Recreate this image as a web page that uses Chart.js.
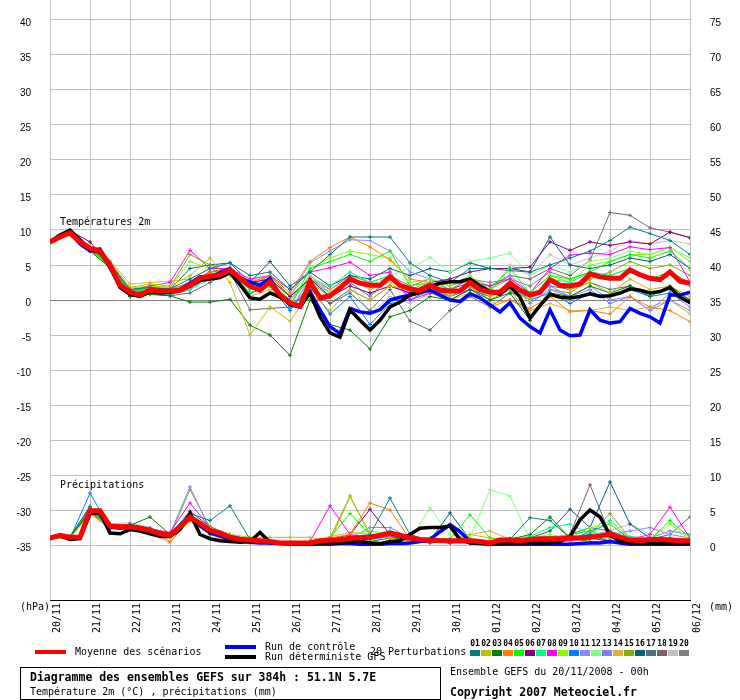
<!DOCTYPE html>
<html>
<head>
<meta charset="utf-8">
<script src="https://cdn.jsdelivr.net/npm/chart.js@4.4.1/dist/chart.umd.min.js"></script>
<style>
  body { margin: 0; background: #fff; }
  #wrap { position: relative; width: 740px; height: 700px; background: #fff; }
  #chart { position: absolute; left: 0; top: 0; }
  .t {
    position: absolute;
    font-family: "DejaVu Sans Mono", monospace;
    font-size: 10px;
    line-height: 12px;
    white-space: pre;
    color: #000;
  }
  .b { font-weight: bold; font-size: 11.5px; }
  .bar { position: absolute; width: 31px; height: 4px; }
  .sw { position: absolute; top: 650px; width: 10px; height: 6px; }
  .num {
    position: absolute; top: 640px; width: 11px; text-align: center;
    font-family: "DejaVu Sans Mono", monospace; font-size: 8px; font-weight: bold; line-height: 8px;
  }
  #box {
    position: absolute; left: 20px; top: 667px; width: 421px; height: 33px;
    border: 1px solid #000; box-sizing: border-box;
  }
</style>
</head>
<body>
<div id="wrap">
  <canvas id="chart" width="740" height="700"></canvas>

  <div class="t" style="left:60px;top:216px">Températures 2m</div>
  <div class="t" style="left:60px;top:479px">Précipitations</div>
  <div class="t" style="left:20px;top:601px">(hPa)</div>
  <div class="t" style="left:709px;top:601px">(mm)</div>

  <div class="bar" style="left:35px;top:650px;background:#ff0000"></div>
  <div class="t" style="left:75px;top:646px">Moyenne des scénarios</div>
  <div class="bar" style="left:225px;top:645px;background:#0000ff"></div>
  <div class="t" style="left:265px;top:641px">Run de contrôle</div>
  <div class="bar" style="left:225px;top:655px;background:#000000"></div>
  <div class="t" style="left:265px;top:651px">Run déterministe GFS</div>
  <div class="t" style="left:370px;top:646px">20 Perturbations</div>
  <div id="swatches"></div>

  <div id="box"></div>
  <div class="t b" style="left:30px;top:671px">Diagramme des ensembles GEFS sur 384h : 51.1N 5.7E</div>
  <div class="t" style="left:30px;top:686px">Température 2m (°C) , précipitations (mm)</div>
  <div class="t" style="left:450px;top:666px">Ensemble GEFS du 20/11/2008 - 00h</div>
  <div class="t b" style="left:450px;top:686px">Copyright 2007 Meteociel.fr</div>
</div>

<script>
// days on the x axis (one grid line every 24h)
const dayLabels = ["20/11", "21/11", "22/11", "23/11", "24/11", "25/11", "26/11", "27/11", "28/11",
  "29/11", "30/11", "01/12", "02/12", "03/12", "04/12", "05/12", "06/12"];

// left axis ticks (°C) and right axis ticks (mm)
const tempTicks = [-35, -30, -25, -20, -15, -10, -5, 0, 5, 10, 15, 20, 25, 30, 35, 40];
const precipTicks = [0, 5, 10, 15, 20, 25, 30, 35, 40, 45, 50, 55, 60, 65, 70, 75];

const memberColors = ["#008080", "#c0c000", "#008000", "#ff8000", "#00ff00", "#800080", "#00ff80",
  "#ff00ff", "#80ff00", "#0080ff", "#8888ff", "#80ff80", "#8080ff", "#e0b040", "#80b000",
  "#006080", "#507080", "#806070", "#c0c0c0", "#808080"];

// 6-hourly temperature (°C), 0h .. 384h
const tempMean = [
  8.3, 9.0, 9.6, 8.3, 7.4, 7.0, 5.0, 2.1, 1.1, 0.7,
  1.4, 1.3, 1.3, 1.4, 2.1, 3.1, 3.4, 3.6, 4.3, 3.1,
  2.0, 1.4, 2.6, 0.7, -0.4, -0.9, 2.6, 0.3, 0.6, 1.7,
  3.0, 2.4, 2.1, 2.1, 3.3, 2.1, 1.6, 1.3, 2.1, 1.4,
  1.3, 1.3, 2.5, 1.5, 1.1, 1.1, 2.4, 1.4, 0.7, 1.1,
  2.9, 2.1, 2.0, 2.3, 3.7, 3.3, 3.1, 3.1, 4.3, 3.6,
  3.1, 2.9, 4.0, 2.7, 2.4];
const tempControl = [
  8.3, 9.2, 9.7, 8.0, 7.0, 7.3, 4.6, 2.0, 1.0, 0.6,
  1.2, 1.4, 1.2, 1.5, 2.4, 3.3, 3.2, 3.9, 4.5, 3.0,
  2.6, 2.1, 3.1, 0.7, -0.7, -1.0, 1.2, -1.4, -3.8, -4.8,
  -1.2, -1.7, -1.9, -1.4, 0.0, 0.4, 0.7, 1.1, 1.4, 0.7,
  0.0, -0.2, 0.9, 0.3, -0.7, -1.7, -0.4, -2.6, -3.8, -4.7,
  -1.4, -4.3, -5.1, -5.0, -1.4, -2.9, -3.3, -3.1, -1.2, -1.9,
  -2.4, -3.3, 0.7, 0.7, 1.1];
const tempDeterm = [
  8.3, 9.3, 10.0, 8.6, 7.2, 6.8, 4.8, 1.8, 0.8, 0.5,
  1.2, 1.0, 1.1, 1.4, 2.0, 2.8, 3.0, 3.2, 3.9, 2.2,
  0.3, 0.1, 1.0, 0.4, -0.4, -1.0, 1.0, -2.4, -4.7, -5.3,
  -1.4, -2.9, -4.3, -2.9, -1.0, -0.3, 0.7, 1.1, 1.9, 2.4,
  2.6, 2.6, 3.0, 2.0, 1.2, 0.8, 2.0, 0.4, -2.6, -0.8,
  0.8, 0.4, 0.3, 0.5, 0.9, 0.5, 0.6, 1.0, 1.6, 1.4,
  1.0, 1.2, 1.8, 0.4, -0.4];

// 12-hourly temperature of the 20 perturbations (01 .. 20)
const tempPerturbations = [
  [8.4, 9.7, 7.6, 5.2, 1.5, 1.8, 1.6, 3.0, 4.5, 5.3, 3.5, 4.0, 1.5, 4.0, 6.5, 9.0, 9.0, 9.0, 5.3, 3.5, 2.5, 4.5, 4.5, 4.2, 4.0, 5.0, 6.0, 7.0, 8.5, 10.4, 9.5, 8.5, 6.5],
  [8.2, 9.5, 7.2, 5.5, 1.8, 2.3, 2.0, 3.5, 6.0, 2.5, -5.0, -1.0, -3.0, 1.0, -1.5, 1.5, 0.0, 2.0, 1.5, 2.5, 0.5, 2.0, 0.5, 1.5, 0.0, 3.0, 1.5, 2.5, 1.0, 3.0, 1.5, 2.0, 0.5],
  [8.3, 9.4, 7.0, 4.6, 0.5, 0.8, 0.6, -0.3, -0.3, 0.1, -3.6, -5.0, -7.9, 0.0, -3.5, -4.3, -7.0, -2.4, -1.5, 0.5, 0.0, 1.5, 0.0, 1.0, -2.9, 1.0, 0.5, 2.0, 1.0, 2.0, 0.5, 2.0, 0.0],
  [8.5, 9.8, 7.5, 5.3, 1.4, 1.8, 1.5, 2.5, 4.0, 4.5, 2.5, 3.5, 1.0, 5.5, 7.5, 9.0, 7.6, 5.7, 3.0, 2.5, 1.0, 2.0, -1.0, 0.0, -1.2, 0.5, -1.7, -1.5, -2.0, 0.5, -1.0, -1.5, -3.1],
  [8.2, 9.5, 7.3, 4.7, 1.2, 1.5, 1.2, 2.0, 3.8, 4.0, 1.0, 2.0, -1.0, 4.5, 5.5, 6.5, 5.5, 7.0, 2.0, 2.5, 1.5, 3.0, 1.5, 4.5, 1.0, 3.5, 3.0, 4.0, 5.5, 6.5, 6.0, 7.0, 4.5],
  [8.4, 9.9, 8.3, 5.0, 1.0, 1.3, 1.0, 2.5, 4.0, 4.5, 2.5, 3.0, 0.5, 3.0, 0.5, 2.0, 1.0, 2.0, 1.0, 2.5, 3.0, 4.0, 4.5, 4.5, 4.7, 8.3, 7.1, 8.3, 7.8, 8.3, 8.0, 9.7, 8.9],
  [8.3, 9.6, 7.4, 5.1, 0.8, 1.0, 0.8, 1.5, 3.0, 4.0, 1.5, 2.5, 0.0, 3.0, 2.0, 4.0, 2.5, 3.5, 1.0, 1.5, 0.5, 2.0, 1.0, 2.0, 0.0, 3.0, 2.5, 4.0, 3.5, 4.5, 3.0, 4.0, 2.0],
  [8.3, 9.5, 7.0, 5.4, 1.3, 2.0, 2.5, 7.1, 4.5, 4.5, 3.0, 3.5, 1.5, 4.0, 4.6, 5.4, 3.5, 4.0, 0.0, 1.0, 1.5, 2.5, 2.0, 3.0, 1.0, 4.5, 6.4, 6.7, 6.5, 7.6, 7.2, 7.5, 2.6],
  [8.2, 9.4, 7.1, 4.8, 1.7, 2.0, 1.8, 5.5, 4.5, 3.5, 1.5, 3.0, 0.5, 4.5, 6.0, 7.0, 6.5, 6.0, 2.5, 3.0, 2.0, 3.5, 1.5, 3.0, 1.0, 3.5, 2.5, 5.0, 5.5, 6.5, 6.5, 7.5, 5.5],
  [8.3, 9.6, 7.5, 5.0, 0.6, 1.0, 0.7, 1.5, 3.5, 4.0, 1.0, 2.0, -1.5, 2.0, -2.0, 0.5, -3.5, -0.5, 0.0, 1.5, 0.5, 1.5, 0.5, 2.0, 0.0, 1.0, -0.5, 1.0, 0.5, 1.5, 0.5, 1.0, -0.5],
  [8.4, 9.7, 7.6, 5.3, 1.2, 1.6, 1.4, 2.5, 4.0, 4.5, 2.0, 3.0, 0.5, 5.3, 7.0, 8.6, 8.5, 7.0, 4.0, 3.0, 1.5, 3.0, 1.5, 3.5, 1.0, 2.0, 0.5, 2.0, 0.0, 0.5, -1.5, 0.0, -1.5],
  [8.3, 9.5, 7.2, 4.9, 1.0, 1.4, 1.1, 2.0, 3.5, 4.0, 1.5, 2.5, 0.0, 2.5, 1.0, 3.0, 2.0, 3.5, 4.5, 6.1, 4.0, 5.5, 6.0, 6.7, 3.5, 5.0, 4.0, 5.5, 6.0, 7.0, 6.5, 7.5, 6.0],
  [8.3, 9.7, 7.5, 5.0, 1.0, 1.3, 1.0, 2.0, 3.5, 4.0, 1.5, 2.0, -1.5, 3.0, 1.0, 2.5, 0.5, 3.5, 0.5, 1.5, 0.0, 1.5, 0.5, 2.5, -0.5, 1.5, 0.5, 1.5, -0.5, 0.5, -1.5, 1.0, -1.0],
  [8.2, 9.4, 7.3, 5.6, 2.3, 2.5, 2.7, 3.0, 4.5, 3.5, 0.5, 1.5, -0.5, 3.5, 1.5, 3.0, 1.5, 2.5, 0.5, 1.0, 0.0, 1.0, -0.5, 0.0, -1.5, -0.5, -1.5, -1.5, -1.0, -1.5, -1.0, 0.0, -2.0],
  [8.3, 9.5, 7.2, 5.0, 1.5, 2.0, 1.8, 6.5, 5.0, 4.0, 2.0, 3.5, 0.5, 2.5, 0.5, 2.5, 0.5, 3.0, 1.5, 2.0, 0.5, 2.0, 0.0, 1.5, -2.5, 1.5, 1.0, 3.0, 4.0, 5.5, 4.5, 5.0, 3.5],
  [8.4, 9.6, 7.4, 5.2, 1.4, 1.8, 1.5, 4.5, 5.0, 5.3, 2.5, 5.5, 2.0, 4.0, 2.0, 3.5, 3.0, 4.5, 3.5, 4.5, 4.0, 5.3, 4.5, 4.5, 4.0, 9.0, 5.0, 4.5, 5.0, 6.0, 5.5, 6.5, 4.5],
  [8.2, 9.4, 7.3, 4.8, 0.9, 1.2, 1.0, 1.8, 3.5, 3.8, 1.0, 2.0, -1.0, 2.0, -0.5, 1.0, -1.5, 1.5, -3.0, -4.3, -1.5, 0.5, -1.0, 1.0, 0.5, 2.0, 1.5, 2.5, 1.5, 2.0, 1.0, 1.5, 0.0],
  [8.3, 9.5, 7.2, 4.9, 0.6, 0.9, 0.6, 1.0, 2.5, 4.0, -1.4, -1.2, -1.0, 1.5, -0.5, 1.5, 0.0, 2.0, 1.0, 2.0, 1.5, 3.0, 2.0, 3.5, 3.0, 4.5, 3.5, 5.7, 12.5, 12.1, 10.3, 9.7, 8.9],
  [8.3, 9.6, 7.3, 5.1, 1.1, 1.5, 1.3, 2.5, 4.0, 4.5, 2.0, 3.0, 0.0, 3.5, 1.0, 2.5, -2.0, 0.5, -0.5, 1.0, 0.5, 2.5, 1.0, 5.0, 3.5, 6.5, 5.0, 6.0, 7.0, 8.5, 8.0, 8.5, 8.0],
  [8.3, 9.5, 7.4, 5.0, 1.3, 1.7, 1.5, 2.5, 4.0, 4.5, 2.5, 3.5, 0.5, 3.0, 1.5, 3.5, 2.5, 3.5, 2.0, 3.0, 2.0, 3.0, 2.5, 3.0, 2.0, 4.0, 3.0, 4.0, 3.5, 4.5, 3.0, 4.0, 2.5]
];

// 6-hourly precipitation (mm)
const precipMean = [
  1.0, 1.4, 1.1, 1.1, 4.9, 4.9, 2.7, 2.6, 2.6, 2.4,
  2.1, 1.6, 1.4, 2.6, 4.0, 3.1, 2.1, 1.7, 1.1, 0.8,
  0.7, 0.6, 0.5, 0.3, 0.3, 0.3, 0.3, 0.6, 0.7, 0.7,
  1.0, 1.0, 1.1, 1.4, 1.7, 1.4, 1.0, 0.8, 0.7, 0.6,
  0.6, 0.6, 0.6, 0.5, 0.3, 0.7, 0.7, 0.6, 0.8, 0.9,
  0.9, 0.9, 1.0, 1.0, 1.1, 1.3, 1.6, 1.1, 0.7, 0.6,
  0.8, 0.8, 0.7, 0.6, 0.6];
const precipControl = [
  1.0, 1.4, 1.1, 1.1, 4.5, 4.7, 2.6, 2.4, 2.5, 2.3,
  2.0, 1.5, 1.3, 2.4, 4.2, 2.8, 1.8, 1.3, 0.8, 0.6,
  0.4, 0.3, 0.3, 0.2, 0.1, 0.1, 0.1, 0.1, 0.1, 0.2,
  0.2, 0.1, 0.1, 0.1, 0.2, 0.2, 0.3, 0.5, 0.8, 1.9,
  2.9, 1.9, 0.5, 0.2, 0.1, 0.1, 0.1, 0.1, 0.1, 0.1,
  0.1, 0.1, 0.1, 0.2, 0.3, 0.3, 0.5, 0.3, 0.1, 0.1,
  0.1, 0.1, 0.1, 0.1, 0.1];
const precipDeterm = [
  1.0, 1.3, 0.8, 0.9, 4.5, 4.6, 1.7, 1.6, 2.2, 2.0,
  1.6, 1.2, 1.2, 2.2, 4.5, 1.5, 0.9, 0.6, 0.5, 0.4,
  0.5, 1.8, 0.4, 0.3, 0.2, 0.2, 0.2, 0.2, 0.3, 0.3,
  0.4, 0.5, 0.3, 0.2, 0.5, 0.6, 1.5, 2.4, 2.5, 2.5,
  2.7, 0.8, 0.3, 0.2, 0.2, 0.2, 0.3, 0.3, 0.3, 0.3,
  0.3, 0.5, 1.2, 3.6, 5.0, 4.0, 1.4, 0.6, 0.3, 0.3,
  0.2, 0.2, 0.2, 0.2, 0.2];

// 12-hourly precipitation of the 20 perturbations (01 .. 20)
const precipPerturbations = [
  [1.0, 1.2, 5.5, 2.5, 3.0, 2.4, 1.6, 4.5, 3.5, 5.6, 0.8, 0.3, 0.2, 0.3, 0.5, 0.8, 1.5, 6.7, 1.5, 0.5, 0.8, 0.5, 0.2, 0.8, 3.9, 3.5, 1.0, 1.5, 0.5, 0.3, 0.5, 0.8, 0.5],
  [1.0, 1.0, 4.5, 2.8, 2.2, 2.0, 1.2, 3.5, 2.5, 1.5, 1.1, 1.1, 1.1, 1.1, 0.5, 6.9, 1.5, 1.0, 0.5, 0.8, 0.5, 1.5, 1.0, 0.5, 0.5, 1.0, 1.5, 0.5, 0.3, 0.5, 1.0, 0.5, 0.2],
  [1.0, 1.1, 4.8, 2.5, 2.8, 4.0, 1.5, 3.5, 1.5, 0.8, 0.5, 0.3, 0.2, 0.3, 0.5, 0.8, 0.5, 1.0, 0.8, 0.5, 0.3, 0.5, 0.3, 0.8, 1.5, 4.0, 1.0, 0.5, 0.3, 0.5, 0.8, 0.5, 0.5],
  [1.0, 1.0, 4.5, 2.3, 2.5, 2.2, 0.5, 3.5, 1.5, 0.5, 0.3, 0.2, 0.0, 0.3, 1.0, 1.5, 6.0, 5.0, 0.8, 0.5, 0.3, 0.5, 0.2, 0.3, 0.5, 0.8, 0.5, 1.5, 1.0, 0.5, 0.5, 0.3, 0.5],
  [1.1, 1.2, 5.0, 2.6, 2.4, 2.0, 1.2, 3.8, 1.8, 1.0, 0.8, 0.5, 0.3, 0.5, 1.0, 4.5, 1.5, 1.0, 0.8, 1.0, 0.8, 4.3, 1.0, 0.8, 0.5, 1.0, 1.5, 2.0, 1.0, 1.0, 0.8, 3.5, 1.0],
  [1.0, 1.1, 4.8, 2.8, 2.6, 2.0, 1.4, 4.2, 2.0, 1.0, 0.5, 0.3, 0.3, 0.5, 0.8, 1.5, 5.1, 1.5, 0.5, 0.3, 0.5, 0.5, 0.3, 0.5, 0.8, 1.0, 0.8, 1.0, 0.5, 0.5, 1.0, 0.8, 0.5],
  [1.0, 1.0, 4.6, 2.7, 2.5, 2.0, 1.3, 3.6, 2.2, 1.2, 0.6, 0.4, 0.3, 0.3, 0.6, 1.0, 1.2, 2.0, 1.2, 0.8, 0.5, 0.8, 0.5, 1.0, 1.2, 2.5, 3.0, 1.5, 3.5, 1.0, 0.8, 1.0, 0.5],
  [1.0, 1.1, 5.2, 2.9, 2.8, 2.3, 1.8, 6.0, 2.5, 1.0, 0.5, 0.3, 0.2, 0.5, 5.6, 1.5, 1.0, 1.2, 0.8, 0.5, 0.5, 0.3, 0.3, 0.5, 0.8, 1.0, 0.8, 1.5, 1.2, 0.8, 1.5, 5.4, 1.0],
  [1.0, 1.2, 4.7, 2.6, 2.7, 2.1, 1.3, 4.3, 2.3, 1.3, 0.7, 0.5, 0.3, 0.4, 0.8, 1.5, 2.0, 1.5, 1.0, 0.8, 0.6, 1.0, 0.5, 0.8, 1.0, 1.5, 1.0, 2.5, 3.0, 1.0, 0.8, 3.0, 0.8],
  [1.0, 1.0, 7.4, 2.5, 2.6, 2.2, 1.5, 4.5, 1.8, 0.8, 0.5, 0.3, 0.2, 0.2, 0.3, 0.5, 0.8, 1.2, 1.5, 0.6, 0.3, 0.3, 0.2, 0.3, 0.5, 1.0, 0.5, 2.0, 3.0, 0.8, 0.5, 0.5, 0.3],
  [1.0, 1.1, 5.5, 2.8, 2.6, 2.3, 1.6, 8.3, 2.2, 1.1, 0.6, 0.3, 0.2, 0.3, 0.6, 1.0, 2.5, 2.5, 1.0, 0.6, 0.5, 0.5, 0.3, 0.5, 0.6, 0.8, 0.6, 1.0, 1.5, 2.0, 2.5, 1.5, 1.0],
  [1.0, 1.0, 4.5, 2.5, 2.4, 2.0, 1.2, 3.5, 2.0, 1.0, 0.5, 0.3, 0.2, 0.3, 0.5, 1.0, 1.2, 1.5, 0.8, 5.3, 1.5, 1.0, 7.9, 7.0, 0.8, 1.0, 0.5, 1.0, 0.8, 0.5, 0.5, 0.8, 0.5],
  [1.0, 1.1, 5.0, 2.7, 2.5, 2.1, 1.4, 4.0, 2.1, 1.1, 0.5, 0.3, 0.2, 0.3, 0.5, 0.8, 1.0, 1.3, 1.0, 0.6, 0.4, 0.5, 0.3, 0.5, 0.5, 1.0, 0.8, 1.2, 1.5, 1.2, 1.0, 2.0, 1.5],
  [1.0, 1.0, 4.6, 2.4, 2.3, 1.8, 0.3, 3.8, 2.0, 1.0, 0.6, 0.4, 0.2, 0.3, 1.2, 1.8, 1.5, 1.0, 0.8, 0.5, 0.5, 1.5, 2.0, 0.8, 0.5, 0.6, 0.5, 1.0, 0.8, 0.5, 0.8, 0.5, 0.5],
  [1.0, 1.1, 4.8, 2.6, 2.5, 2.0, 1.3, 7.9, 2.5, 1.2, 0.6, 0.4, 0.3, 0.4, 1.0, 7.0, 1.5, 1.0, 0.8, 0.6, 0.5, 0.8, 0.5, 0.8, 1.0, 1.2, 1.0, 1.5, 4.5, 1.0, 0.8, 1.0, 0.8],
  [1.0, 1.2, 5.2, 2.9, 2.8, 2.3, 1.5, 4.8, 2.6, 1.5, 0.8, 0.5, 0.3, 0.4, 0.8, 1.2, 1.5, 1.5, 0.8, 0.6, 4.6, 0.8, 0.5, 0.8, 1.0, 2.0, 5.1, 2.5, 9.0, 3.0, 1.0, 0.8, 0.5],
  [1.0, 1.0, 4.8, 2.6, 2.5, 2.0, 1.4, 3.8, 1.8, 0.8, 0.4, 0.3, 0.2, 0.3, 0.5, 0.8, 1.0, 1.2, 0.8, 0.5, 0.4, 0.5, 0.3, 0.5, 0.8, 1.0, 1.5, 2.5, 2.0, 1.0, 0.8, 1.0, 0.5],
  [1.0, 1.1, 4.9, 2.7, 2.6, 2.1, 1.4, 4.1, 2.1, 1.1, 0.6, 0.4, 0.3, 0.3, 0.6, 1.0, 1.2, 1.8, 1.0, 0.6, 0.5, 0.6, 0.4, 0.6, 0.8, 1.0, 1.5, 8.6, 1.5, 1.0, 0.8, 1.5, 4.0],
  [1.0, 1.1, 5.0, 3.0, 3.2, 2.5, 1.5, 4.0, 2.0, 1.0, 0.5, 0.4, 0.3, 0.4, 0.6, 1.0, 1.2, 1.5, 1.0, 0.6, 0.5, 0.5, 0.3, 0.5, 0.8, 1.0, 1.2, 1.5, 2.0, 3.0, 1.5, 1.0, 0.8],
  [1.0, 1.1, 5.3, 2.8, 2.7, 2.2, 1.5, 4.2, 2.2, 1.2, 0.6, 0.4, 0.3, 0.4, 0.7, 1.0, 1.3, 1.8, 1.0, 0.7, 0.5, 0.6, 0.4, 0.7, 0.8, 1.0, 1.2, 1.2, 1.5, 1.0, 0.8, 0.8, 0.6]
];

// legend swatches
const swatchBox = document.getElementById("swatches");
memberColors.forEach((c, j) => {
  const left = 470 + j * 11;
  swatchBox.insertAdjacentHTML("beforeend",
    `<div class="num" style="left:${left - 0.5}px">${String(j + 1).padStart(2, "0")}</div>` +
    `<div class="sw" style="left:${left}px;background:${c}"></div>`);
});

const every6h = (values) => values.map((v, i) => ({ x: i * 6, y: v }));
const every12h = (values) => values.map((v, k) => ({ x: k * 12, y: v }));

function mainLine(values, color, width, axis, order) {
  return {
    data: every6h(values),
    yAxisID: axis,
    borderColor: color,
    backgroundColor: color,
    borderWidth: width,
    pointRadius: 0,
    order: order
  };
}

function memberLine(values, color, axis) {
  return {
    data: every12h(values),
    yAxisID: axis,
    borderColor: color,
    backgroundColor: color,
    borderWidth: 1,
    pointStyle: "cross",
    pointRadius: 2,
    pointBorderWidth: 1,
    order: 10
  };
}

const datasets = [
  mainLine(tempMean, "#ff0000", 5, "y", 0),
  mainLine(tempDeterm, "#000000", 3.5, "y", 1),
  mainLine(tempControl, "#0000ff", 3.5, "y", 2),
  mainLine(precipMean, "#ff0000", 5, "y2", 0),
  mainLine(precipDeterm, "#000000", 3.5, "y2", 1),
  mainLine(precipControl, "#0000ff", 3.5, "y2", 2)
];
tempPerturbations.forEach((s, j) => datasets.push(memberLine(s, memberColors[j], "y")));
precipPerturbations.forEach((s, j) => datasets.push(memberLine(s, memberColors[j], "y2")));

const half = 300 / 7; // 7 px per degree, 600 px tall plot

new Chart(document.getElementById("chart"), {
  type: "line",
  data: { datasets },
  options: {
    responsive: false,
    animation: false,
    devicePixelRatio: 1,
    layout: { padding: 0, autoPadding: false },
    plugins: { legend: { display: false }, tooltip: { enabled: false } },
    elements: { line: { tension: 0 } },
    scales: {
      x: {
        type: "linear",
        min: 0,
        max: 384,
        afterBuildTicks: (ax) => { ax.ticks = dayLabels.map((d, i) => ({ value: i * 24 })); },
        afterFit: (ax) => { ax.height = 100; ax.paddingLeft = 0; ax.paddingRight = 0; },
        grid: { color: "#c0c0c0", drawTicks: false },
        border: { color: "#000000", width: 1 },
        ticks: {
          autoSkip: false,
          minRotation: 90,
          maxRotation: 90,
          padding: 3,
          labelOffset: 7,
          color: "#000",
          font: { family: "DejaVu Sans Mono", size: 10 },
          callback: (v) => dayLabels[Math.round(v / 24)]
        }
      },
      y: {
        position: "left",
        min: -half,
        max: half,
        afterBuildTicks: (ax) => { ax.ticks = tempTicks.map((v) => ({ value: v })); },
        afterFit: (ax) => { ax.width = 50; ax.paddingTop = 0; ax.paddingBottom = 0; },
        grid: {
          drawTicks: false,
          color: (ctx) => (ctx.tick && ctx.tick.value === 0 ? "#808080" : "#c0c0c0")
        },
        border: { display: false },
        ticks: { padding: 19, labelOffset: 3, color: "#000", font: { family: "Liberation Sans", size: 10 } }
      },
      y2: {
        position: "right",
        min: 35 - half,
        max: 35 + half,
        afterBuildTicks: (ax) => { ax.ticks = precipTicks.map((v) => ({ value: v })); },
        afterFit: (ax) => { ax.width = 50; ax.paddingTop = 0; ax.paddingBottom = 0; },
        grid: { display: false, drawTicks: false },
        border: { display: false },
        ticks: { padding: 20, labelOffset: 3, color: "#000", font: { family: "Liberation Sans", size: 10 } }
      }
    }
  }
});
</script>
</body>
</html>
